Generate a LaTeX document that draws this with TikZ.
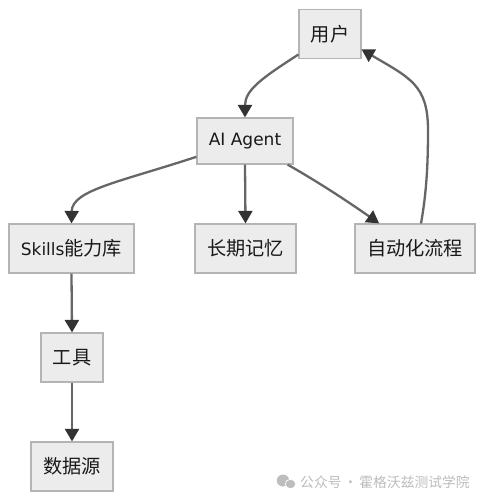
\documentclass[tikz,border=0pt]{standalone}
\usepackage{fontspec}
\setmainfont{DejaVu Sans}
\newfontfamily\cjkf{Noto Sans CJK SC}
\usetikzlibrary{arrows.meta}
\definecolor{boxfill}{HTML}{ECECEC}
\definecolor{boxline}{HTML}{B4B4B4}
\definecolor{edgeline}{HTML}{666666}
\definecolor{tipcol}{HTML}{333333}
\definecolor{wmark}{HTML}{BDBDBD}
\newcommand\lowtxt[1]{\raisebox{-1pt}{#1}}
\newcommand\latintxt{\fontsize{17}{20}\selectfont\rmfamily}
\tikzset{
  box/.style={draw=boxline,fill=boxfill,line width=1.2pt,inner sep=0pt,anchor=center,text=black!90,font=\fontsize{19.2}{22}\selectfont\cjkf},
  edge/.style={draw=edgeline,line width=2.3pt,-{Triangle[length=12.5pt,width=14pt,color=tipcol]}}
}
\begin{document}
\begin{tikzpicture}[x=1pt,y=-1pt]
\useasboundingbox (0,0) rectangle (484,501);
\fill[white] (0,0) rectangle (484,501);
\node[box,minimum width=62pt,minimum height=49pt] (u) at (330,34) {\lowtxt{用户}};
\node[box,minimum width=96pt,minimum height=46pt] (a) at (245,141) {\lowtxt{\latintxt AI Agent}};
\node[box,minimum width=125pt,minimum height=49pt] (s) at (71.5,248.5) {\lowtxt{{\latintxt Skills}能力库}};
\node[box,minimum width=101pt,minimum height=49pt] (m) at (245.5,248.5) {\lowtxt{长期记忆}};
\node[box,minimum width=120pt,minimum height=49pt] (f) at (415,248.5) {\lowtxt{自动化流程}};
\node[box,minimum width=62pt,minimum height=49pt] (t) at (72,357.5) {\lowtxt{工具}};
\node[box,minimum width=82pt,minimum height=49pt] (d) at (72,466.5) {\lowtxt{数据源}};
\coordinate (bend) at (428,130);
\draw[edge] (u.213) .. controls (262,78) and (245,90) .. (a.north);
\draw[edge] (a.198) .. controls (120,182) and (72,190) .. (s.north);
\draw[edge] (a.south) -- (m.north);
\draw[edge] (a.-29) .. controls (320,183) and (350,203) .. (f.145);
\draw[edge] (f.north -| 421,224) .. controls (427,190) and (428,160) .. (bend) .. controls (428,85) and (410,78) .. (u.-26);
\draw[edge] (s.south) -- (t.north);
\draw[edge] (t.south) -- (d.north);
% watermark
\fill[wmark] (283,480.5) ellipse (6.2pt and 6pt);
\fill[wmark,draw=white,line width=.7pt] (290.5,484) ellipse (5.3pt and 4.7pt);
\node[anchor=west,inner sep=0pt,text=wmark,font=\fontsize{13.8}{16}\selectfont\cjkf] (w) at (300,482) {公众号\kern2pt·\kern2pt 霍格沃兹测试学院};
\end{tikzpicture}
\end{document}
